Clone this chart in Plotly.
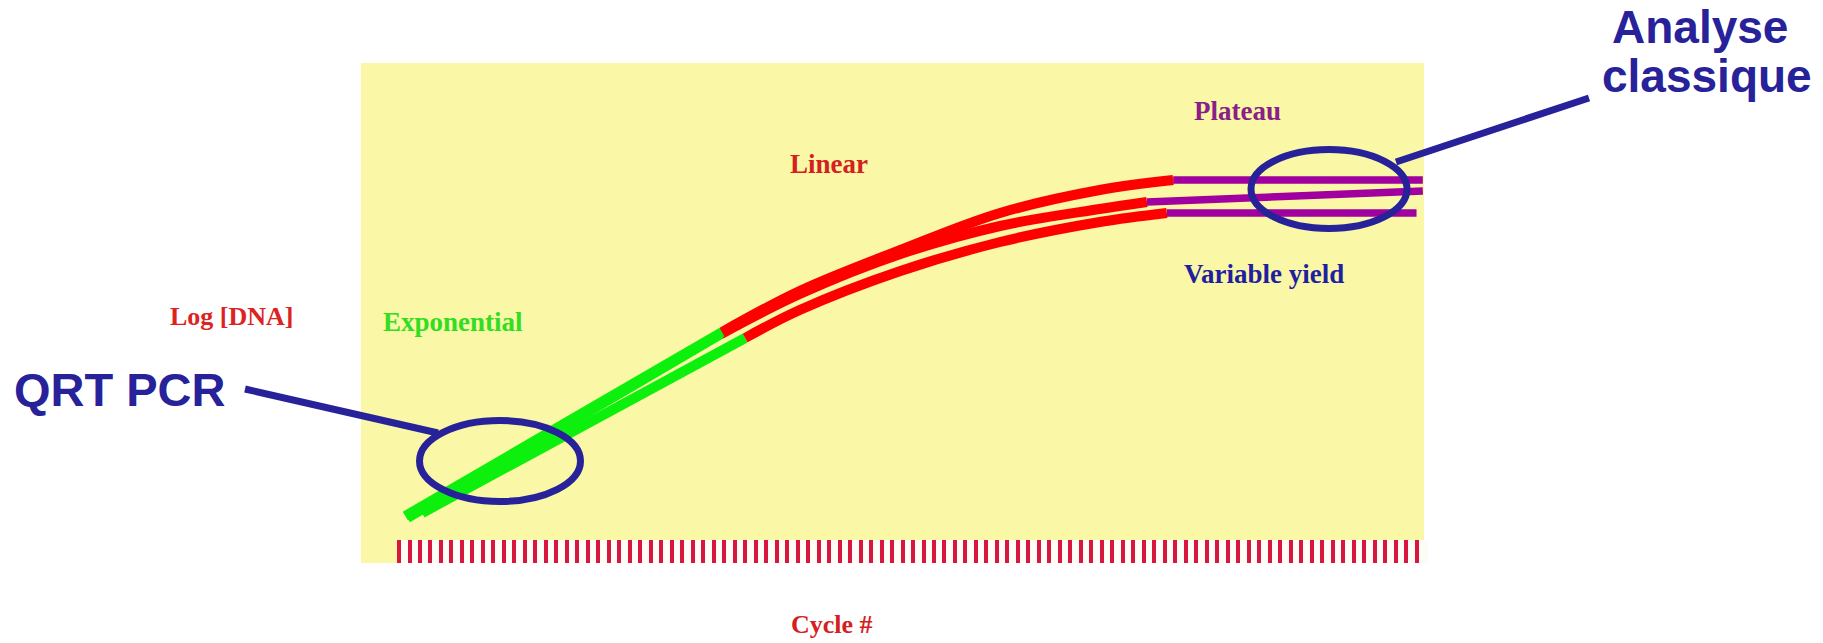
import plotly.graph_objects as go

W, H = 1823, 643
# plot area edges in page pixels
PL, PR, PT, PB = 361, 1428, 63, 563

# x axis: one tick per cycle
cycle_ticks = list(range(99))
x_range = [-3.623, 98.093]
y_range = [0, 100]

# amplification curves: (cycle, log[DNA]) for each phase
# curve A (highest plateau)
a_exp_cycle = [0.6, 30.8]
a_exp_logdna = [9.4, 46.2]
a_lin_cycle = [30.8, 38.2, 47.8, 57.3, 66.8, 73.8]
a_lin_logdna = [46.2, 54.4, 62.6, 70.0, 74.6, 76.6]
a_plat_cycle = [73.8, 97.6]
a_plat_logdna = [76.6, 76.6]

# curve B (rising plateau)
b_exp_cycle = [0.8, 30.7]
b_exp_logdna = [9.0, 45.8]
b_lin_cycle = [30.7, 38.2, 47.8, 57.3, 66.8, 71.3]
b_lin_logdna = [45.8, 53.8, 61.8, 67.4, 70.8, 72.2]
b_plat_cycle = [71.3, 97.6]
b_plat_logdna = [72.2, 74.4]

# curve C (lowest plateau)
c_exp_cycle = [2.2, 33.0]
c_exp_logdna = [10.0, 45.0]
c_lin_cycle = [33.0, 38.2, 47.8, 57.3, 66.8, 73.2]
c_lin_logdna = [45.0, 50.6, 58.4, 64.2, 68.2, 70.0]
c_plat_cycle = [73.2, 97.0]
c_plat_logdna = [70.0, 70.0]

GREEN = "#0df00d"
RED = "#ff0000"
PURPLE = "#a0009f"
NAVY = "#27229a"


def px(x):
    return (x - PL) / (PR - PL)


def py(y):
    return (PB - y) / (PB - PT)


fig = go.Figure()

curves = [
    (c_exp_cycle, c_exp_logdna, c_lin_cycle, c_lin_logdna, c_plat_cycle, c_plat_logdna),
    (b_exp_cycle, b_exp_logdna, b_lin_cycle, b_lin_logdna, b_plat_cycle, b_plat_logdna),
    (a_exp_cycle, a_exp_logdna, a_lin_cycle, a_lin_logdna, a_plat_cycle, a_plat_logdna),
]
for ex, ey, lx, ly, qx, qy in curves:
    fig.add_trace(go.Scatter(x=ex, y=ey, mode="lines",
                             line=dict(color=GREEN, width=10),
                             hoverinfo="skip", showlegend=False))
    fig.add_trace(go.Scatter(x=lx, y=ly, mode="lines",
                             line=dict(color=RED, width=10, shape="spline", smoothing=1),
                             hoverinfo="skip", showlegend=False))
    fig.add_trace(go.Scatter(x=qx, y=qy, mode="lines",
                             line=dict(color=PURPLE, width=7.5),
                             hoverinfo="skip", showlegend=False))

shapes = [
    # pale yellow panel
    dict(type="rect", xref="paper", yref="paper", x0=0, x1=px(1424), y0=0, y1=1,
         fillcolor="#faf8a6", line=dict(width=0), layer="below"),
    # white strip behind the cycle ticks
    dict(type="rect", xref="paper", yref="paper", x0=px(397), x1=1, y0=0, y1=py(540),
         fillcolor="#fdfcf6", line=dict(width=0), layer="below"),
    # callout ellipses
    dict(type="circle", xref="paper", yref="paper",
         x0=px(500 - 80.5), x1=px(500 + 80.5), y0=py(461 + 40.5), y1=py(461 - 40.5),
         line=dict(color=NAVY, width=7)),
    dict(type="circle", xref="paper", yref="paper",
         x0=px(1329 - 78), x1=px(1329 + 78), y0=py(189 + 39.5), y1=py(189 - 39.5),
         line=dict(color=NAVY, width=7)),
    # callout leader lines
    dict(type="line", xref="paper", yref="paper",
         x0=px(245), y0=py(389), x1=px(438), y1=py(433),
         line=dict(color=NAVY, width=7)),
    dict(type="line", xref="paper", yref="paper",
         x0=px(1396), y0=py(162), x1=px(1589), y1=py(98),
         line=dict(color=NAVY, width=7)),
]

SERIF = "Liberation Serif, Times New Roman, serif"
SANS = "Liberation Sans, Arial, sans-serif"


def label(text, cx, cy, color, size, family):
    return dict(text=text, xref="paper", yref="paper", x=px(cx), y=py(cy),
                xanchor="center", yanchor="middle", showarrow=False,
                font=dict(family=family, size=size, color=color, weight=700))


annotations = [
    label("Log [DNA]", 232, 316, "#dd2222", 26, SERIF),
    label("Exponential", 453, 322, "#33dd22", 27, SERIF),
    label("Linear", 829, 164, "#d42020", 27, SERIF),
    label("Plateau", 1237, 111, "#8a1f8a", 27, SERIF),
    label("Variable yield", 1264, 274, "#1f1fa0", 27, SERIF),
    label("Cycle #", 832, 624, "#d42020", 26, SERIF),
    label("QRT PCR", 120, 389, NAVY, 47, SANS),
    label("Analyse", 1700, 27, NAVY, 46, SANS),
    label("classique", 1707, 76, NAVY, 46, SANS),
]

fig.update_layout(
    width=W, height=H,
    margin=dict(l=PL, r=W - PR, t=PT, b=H - PB, pad=0),
    paper_bgcolor="white",
    plot_bgcolor="rgba(0,0,0,0)",
    shapes=shapes,
    annotations=annotations,
    showlegend=False,
    xaxis=dict(range=x_range, showgrid=False, zeroline=False, showline=False,
               tickmode="array", tickvals=cycle_ticks, showticklabels=False,
               ticks="inside", ticklen=23, tickwidth=3.5, tickcolor="#d8173f",
               fixedrange=True),
    yaxis=dict(range=y_range, showgrid=False, zeroline=False, showline=False,
               showticklabels=False, ticks="", fixedrange=True),
)

fig.write_html("out.html")
